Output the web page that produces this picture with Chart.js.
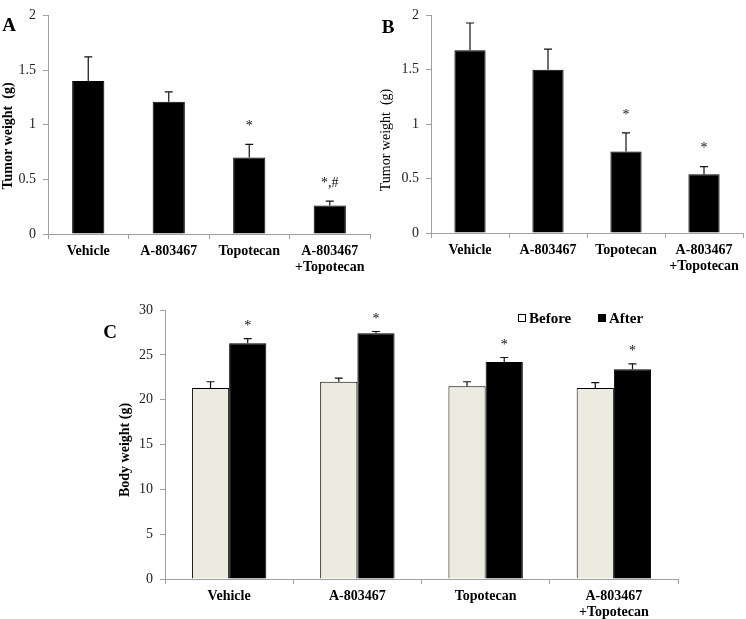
<!DOCTYPE html>
<html>
<head>
<meta charset="utf-8">
<script src="https://cdn.jsdelivr.net/npm/chart.js@4"></script>
<style>
  body { margin: 0; background: #fff; width: 746px; height: 619px; overflow: hidden; position: relative; }
  canvas { position: absolute; }
</style>
</head>
<body>
<canvas id="chartA" width="373" height="290" style="left:0;top:0"></canvas>
<canvas id="chartB" width="373" height="290" style="left:373px;top:0"></canvas>
<canvas id="chartC" width="746" height="329" style="left:0;top:290px"></canvas>
<script>
const groups = ['Vehicle', 'A-803467', 'Topotecan', ['A-803467', '+Topotecan']];

// panel A: tumor weight
const tumorA = [1.40, 1.21, 0.70, 0.26];
const tumorAErr = [0.22, 0.09, 0.12, 0.04];
const tumorAMarks = ['', '', '*', '*,#'];

// panel B: tumor weight
const tumorB = [1.68, 1.50, 0.75, 0.54];
const tumorBErr = [0.25, 0.19, 0.17, 0.07];
const tumorBMarks = ['', '', '*', '*'];

// panel C: body weight before / after
const bodyBefore = [21.3, 22.0, 21.5, 21.3];
const bodyBeforeErr = [0.7, 0.4, 0.5, 0.6];
const bodyAfter = [26.3, 27.4, 24.2, 23.4];
const bodyAfterErr = [0.5, 0.2, 0.5, 0.6];
const bodyAfterMarks = ['*', '*', '*', '*'];

const SERIF = '"Liberation Serif", "Times New Roman", serif';
const AXIS_GREY = '#a0a0a0';

// whiskers (upper only) plus the significance marks above them
const errorBars = {
    id: 'errorBars',
    afterDatasetsDraw(chart, args, opts) {
        const ctx = chart.ctx;
        const y = chart.scales.y;
        chart.data.datasets.forEach((ds, i) => {
            if (!ds.errors) return;
            chart.getDatasetMeta(i).data.forEach((bar, j) => {
                const top = y.getPixelForValue(ds.data[j] + ds.errors[j]);
                ctx.save();
                ctx.strokeStyle = '#111';
                ctx.lineWidth = 1.2;
                ctx.beginPath();
                ctx.moveTo(bar.x, bar.y);
                ctx.lineTo(bar.x, top);
                ctx.moveTo(bar.x - 4, top);
                ctx.lineTo(bar.x + 4, top);
                ctx.stroke();
                if (ds.marks && ds.marks[j]) {
                    ctx.fillStyle = '#111';
                    ctx.font = '14px ' + SERIF;
                    ctx.textAlign = 'center';
                    ctx.textBaseline = 'middle';
                    ctx.fillText(ds.marks[j], bar.x, top - (opts.markGap || 16));
                }
                ctx.restore();
            });
        });
    }
};

// panel letter, rotated y title, optional legend
const panelText = {
    id: 'panelText',
    afterDraw(chart, args, opts) {
        const ctx = chart.ctx;
        ctx.save();
        ctx.fillStyle = '#000';
        ctx.textAlign = 'center';
        ctx.textBaseline = 'middle';
        ctx.font = 'bold 19px ' + SERIF;
        ctx.fillText(opts.letter, opts.letterX, opts.letterY);

        if (opts.legendX) {
            ctx.font = 'bold 15px ' + SERIF;
            ctx.textAlign = 'left';
            chart.data.datasets.forEach((ds, i) => {
                const x = opts.legendX[i];
                ctx.fillStyle = ds.backgroundColor === '#000' ? '#000' : '#fff';
                ctx.fillRect(x, opts.legendY - 4, 8, 8);
                ctx.strokeStyle = '#000';
                ctx.lineWidth = 1;
                ctx.strokeRect(x + 0.5, opts.legendY - 3.5, 7, 7);
                ctx.fillStyle = '#000';
                ctx.fillText(ds.label, x + 11, opts.legendY + 1);
            });
        }

        ctx.translate(opts.titleX, opts.titleY);
        ctx.rotate(-Math.PI / 2);
        ctx.textAlign = 'center';
        ctx.fillStyle = '#000';
        ctx.font = (opts.titleBold ? 'bold ' : '') + '14px ' + SERIF;
        ctx.fillText(opts.title, 0, 0);
        ctx.restore();
    }
};

function makeScales(yMax, yStep, yWidth, xHeight) {
    return {
        x: {
            afterFit: s => { s.height = xHeight; },
            border: { color: AXIS_GREY, width: 1 },
            grid: { offset: true, drawOnChartArea: false, tickLength: 5, color: AXIS_GREY },
            ticks: {
                color: '#000', font: { family: SERIF, size: 14, weight: 'bold', lineHeight: 1.15 },
                padding: 4, maxRotation: 0, autoSkip: false
            }
        },
        y: {
            min: 0, max: yMax,
            afterFit: s => { s.width = yWidth; },
            border: { color: AXIS_GREY, width: 1 },
            grid: { drawOnChartArea: false, tickLength: 5, color: AXIS_GREY },
            ticks: {
                stepSize: yStep, color: '#222', font: { family: SERIF, size: 14 }, padding: 7,
                callback: v => String(v)
            }
        }
    };
}

function tumorChart(id, values, errors, marks, pad, yWidth, xHeight, text) {
    return new Chart(document.getElementById(id), {
        type: 'bar',
        data: {
            labels: groups,
            datasets: [{
                label: 'Tumor weight',
                data: values,
                errors: errors,
                marks: marks,
                backgroundColor: '#000',
                borderColor: '#000',
                borderWidth: 1,
                categoryPercentage: 0.4,
                barPercentage: 1
            }]
        },
        options: {
            responsive: false,
            animation: false,
            layout: { padding: pad },
            scales: makeScales(2, 0.5, yWidth, xHeight),
            plugins: {
                legend: { display: false },
                tooltip: { enabled: false },
                errorBars: { markGap: 18 },
                panelText: text
            }
        },
        plugins: [errorBars, panelText]
    });
}

tumorChart('chartA', tumorA, tumorAErr, tumorAMarks,
    { top: 7, right: 3, left: 0, bottom: 0 }, 48, 56,
    { letter: 'A', letterX: 9, letterY: 26, title: 'Tumor weight  (g)', titleX: 8, titleY: 136, titleBold: true });

tumorChart('chartB', tumorB, tumorBErr, tumorBMarks,
    { top: 8, right: 3, left: 0, bottom: 0 }, 58, 57,
    { letter: 'B', letterX: 15, letterY: 28, title: 'Tumor weight  (g)', titleX: 13, titleY: 140, titleBold: false });

new Chart(document.getElementById('chartC'), {
    type: 'bar',
    data: {
        labels: groups,
        datasets: [{
            label: 'Before',
            data: bodyBefore,
            errors: bodyBeforeErr,
            backgroundColor: '#ecebe0',
            borderColor: '#000',
            borderWidth: 1,
            categoryPercentage: 0.58,
            barPercentage: 1
        }, {
            label: 'After',
            data: bodyAfter,
            errors: bodyAfterErr,
            marks: bodyAfterMarks,
            backgroundColor: '#000',
            borderColor: '#000',
            borderWidth: 1,
            categoryPercentage: 0.58,
            barPercentage: 1
        }]
    },
    options: {
        responsive: false,
        animation: false,
        layout: { padding: { top: 20, right: 68, left: 0, bottom: 0 } },
        scales: makeScales(30, 5, 165, 40),
        plugins: {
            legend: { display: false },
            tooltip: { enabled: false },
            errorBars: { markGap: 12 },
            panelText: {
                letter: 'C', letterX: 110, letterY: 43,
                title: 'Body weight (g)', titleX: 125, titleY: 160, titleBold: true,
                legendX: [518, 598], legendY: 28
            }
        }
    },
    plugins: [errorBars, panelText]
});
</script>
</body>
</html>
